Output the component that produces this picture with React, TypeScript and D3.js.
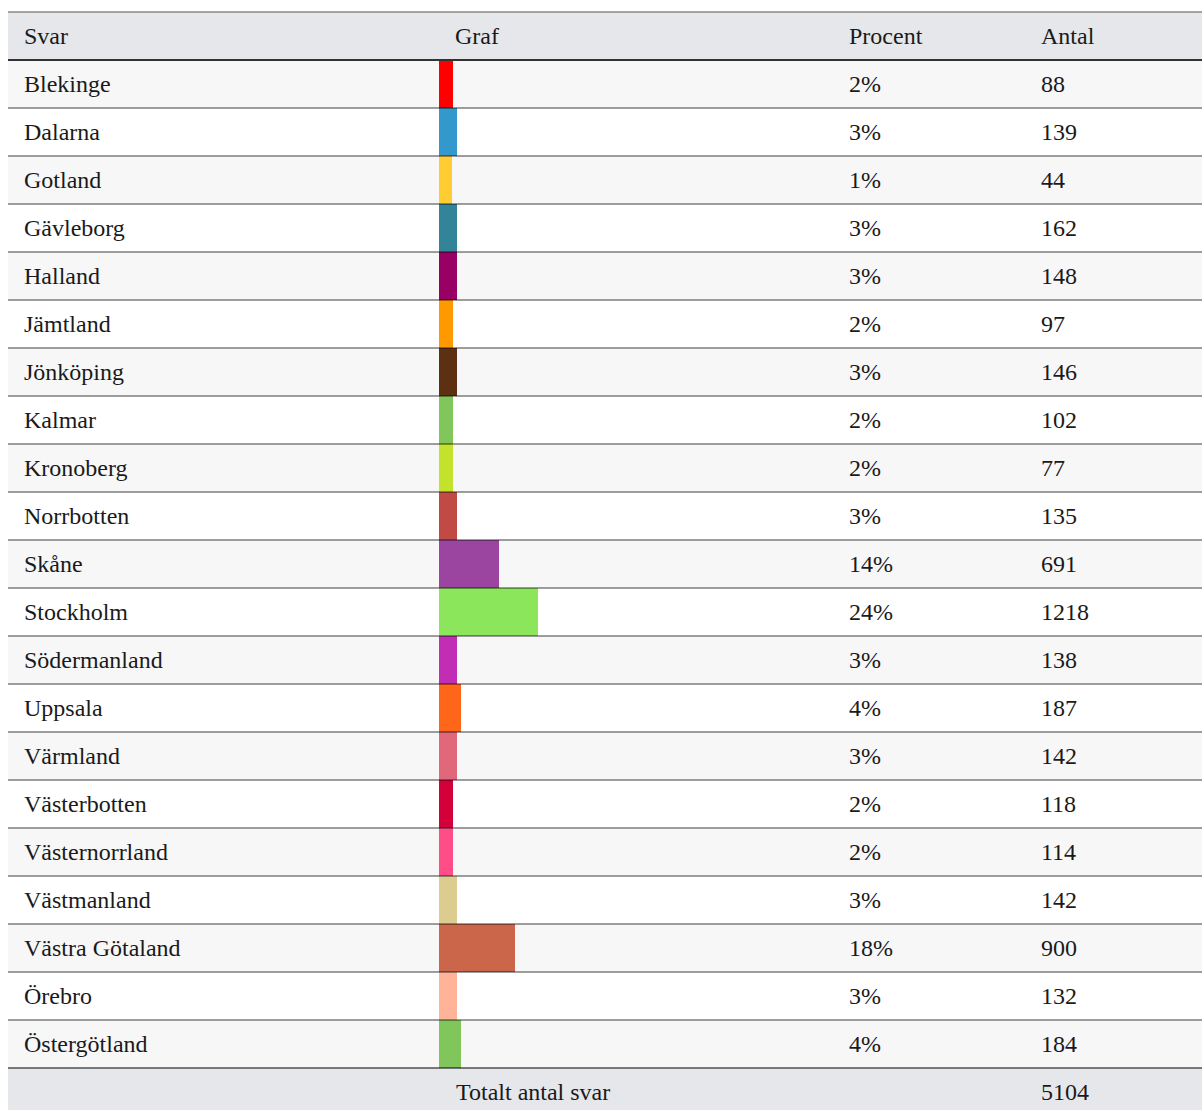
import React, { useEffect } from 'react';
import { scaleBand, scaleLinear } from 'd3';

const regions = [
  'Blekinge', 'Dalarna', 'Gotland', 'Gävleborg', 'Halland', 'Jämtland', 'Jönköping',
  'Kalmar', 'Kronoberg', 'Norrbotten', 'Skåne', 'Stockholm', 'Södermanland', 'Uppsala',
  'Värmland', 'Västerbotten', 'Västernorrland', 'Västmanland', 'Västra Götaland',
  'Örebro', 'Östergötland',
];
const percents = [2, 3, 1, 3, 3, 2, 3, 2, 2, 3, 14, 24, 3, 4, 3, 2, 2, 3, 18, 3, 4];
const counts = [88, 139, 44, 162, 148, 97, 146, 102, 77, 135, 691, 1218, 138, 187, 142, 118, 114, 142, 900, 132, 184];
const colors = [
  '#ff0000', '#3399cc', '#ffcc33', '#338499', '#990066', '#ff9900', '#5c3011',
  '#80c65a', '#c2e22b', '#c24a44', '#9c45a0', '#8ce65c', '#c22db5', '#ff6619',
  '#e0687a', '#d3003a', '#ff4d88', '#ddcc90', '#cc664a', '#ffb399', '#80c65a',
];
const headers = ['Svar', 'Graf', 'Procent', 'Antal'];
const totalLabel = 'Totalt antal svar';
const total = 5104;

const W = 1202;
const H = 1110;
const left = 8;
const headTop = 12;
const rowH = 48;
const font = '"Liberation Serif", "Times New Roman", serif';

export default function App() {
  useEffect(() => {
    document.body.style.overflow = 'hidden';
  }, []);

  const bodyTop = headTop + rowH;
  const y = scaleBand<string>()
    .domain(regions)
    .range([bodyTop, bodyTop + rowH * regions.length])
    .padding(0);
  // bar length from the rounded percent, small shares get a minimum width
  const barW = scaleLinear().domain([2, 24]).range([14, 99]);
  const footTop = bodyTop + rowH * regions.length;
  const colX = [24, 455, 849, 1041];
  const barX = 439;
  const base = 31.5;

  return (
    <svg
      width={W}
      height={H}
      style={{ position: 'absolute', left: 0, top: 0 }}
      fontFamily={font}
      fontSize={24}
    >
      {/* header */}
      <rect x={left} y={headTop} width={W - left} height={rowH} fill="#e6e7ea" />
      {headers.map((h, i) => (
        <text key={h} x={colX[i]} y={headTop + base} fill="#1a1a1a">
          {h}
        </text>
      ))}

      {/* rows */}
      {regions.map((r, i) => (
        <g key={r}>
          <rect
            x={left}
            y={y(r)}
            width={W - left}
            height={y.bandwidth()}
            fill={i % 2 === 0 ? '#f7f7f7' : '#ffffff'}
          />
          <rect
            x={barX}
            y={y(r)}
            width={Math.max(13, Math.round(barW(percents[i])))}
            height={y.bandwidth()}
            fill={colors[i]}
          />
          <text x={colX[0]} y={(y(r) ?? 0) + base} fill="#1a1a1a">{r}</text>
          <text x={colX[2]} y={(y(r) ?? 0) + base} fill="#1a1a1a">{percents[i]}%</text>
          <text x={colX[3]} y={(y(r) ?? 0) + base} fill="#1a1a1a">{counts[i]}</text>
        </g>
      ))}

      {/* footer */}
      <rect x={left} y={footTop} width={W - left} height={rowH} fill="#e6e7ea" />
      <text x={456} y={footTop + base} fill="#1a1a1a">{totalLabel}</text>
      <text x={colX[3]} y={footTop + base} fill="#1a1a1a">{total}</text>

      {/* borders */}
      <line x1={left} x2={W} y1={headTop} y2={headTop} stroke="#888" strokeWidth={1.5} />
      {regions.slice(1).map((r) => (
        <line
          key={r}
          x1={left}
          x2={W}
          y1={y(r)}
          y2={y(r)}
          stroke="rgba(0,0,0,0.5)"
          strokeWidth={1.5}
        />
      ))}
      <line x1={left} x2={W} y1={footTop} y2={footTop} stroke="rgba(0,0,0,0.5)" strokeWidth={2} />
      <line x1={left} x2={W} y1={bodyTop} y2={bodyTop} stroke="#333" strokeWidth={2} />
    </svg>
  );
}
